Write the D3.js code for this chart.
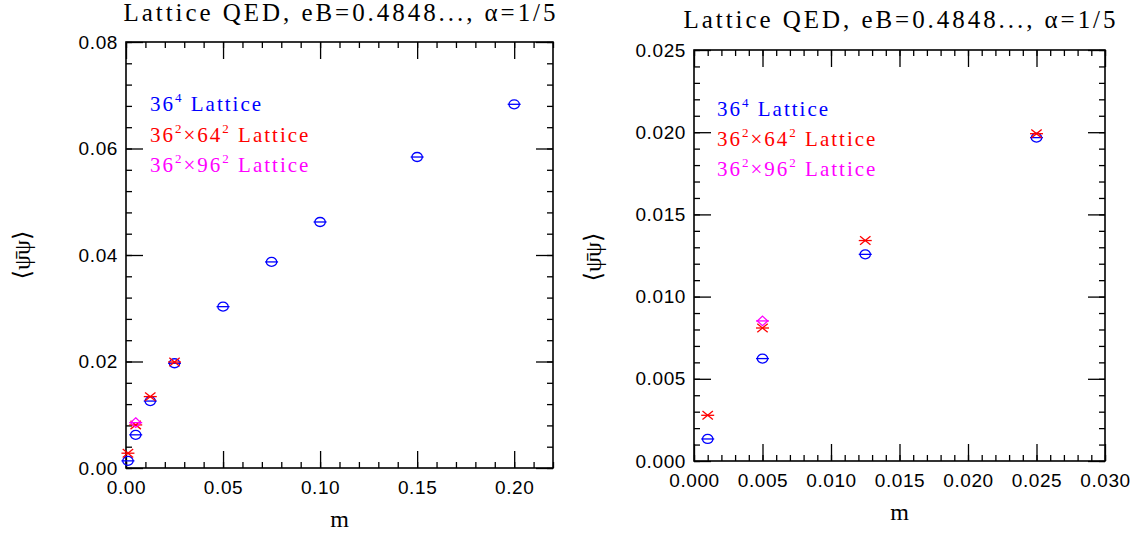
<!DOCTYPE html>
<html lang="en">
<head>
<meta charset="UTF-8">
<title>Lattice QED chiral condensate</title>
<script src="https://d3js.org/d3.v7.min.js"></script>
<style>
    body { margin: 0; padding: 0; background: #fff; }
    svg { display: block; }
    .tick line { stroke: #000; stroke-width: 1.3; }
    .title, .legend, .axis-label { font-family: "Liberation Serif", "DejaVu Serif", serif; }
</style>
</head>
<body>
<div id="chart"></div>
<script>
    // 36^4 lattice
    const mBlue = [0.001, 0.005, 0.0125, 0.025, 0.05, 0.075, 0.1, 0.15, 0.2];
    const pbpBlue = [0.00134, 0.00623, 0.01257, 0.01967, 0.0303, 0.0387, 0.0462, 0.0584, 0.0683];
    // 36^2 x 64^2 lattice
    const mRed = [0.001, 0.005, 0.0125, 0.025];
    const pbpRed = [0.00278, 0.00809, 0.01341, 0.01991];
    // 36^2 x 96^2 lattice
    const mMag = [0.005];
    const pbpMag = [0.00852];

    const titleText = "Lattice QED, eB=0.4848..., \u03b1=1/5";
    const legendNames = [["36", "4", ""], ["36", "2", "\u00d764", "2"], ["36", "2", "\u00d796", "2"]];

    const series = [
        {m: mBlue, v: pbpBlue, color: "#0000ff", shape: "circle"},
        {m: mRed, v: pbpRed, color: "#ff0000", shape: "star"},
        {m: mMag, v: pbpMag, color: "#ff00ff", shape: "diamond"}
    ];

    const panels = [
        {left: 126, right: 553, top: 42, bottom: 468,
         xMax: 0.22, yMax: 0.08, xStep: 0.05, xMinor: 0.01, yStep: 0.02, yMinor: 0.004,
         fmt: ".2f", titleY: 21, legX: 150, legY: [111, 141.5, 171.5], mY: 527, ylabX: 22, ylabY: 255},
        {left: 694, right: 1105, top: 50, bottom: 461,
         xMax: 0.03, yMax: 0.025, xStep: 0.005, xMinor: 0.001, yStep: 0.005, yMinor: 0.001,
         fmt: ".3f", titleY: 28, legX: 717, legY: [116, 146, 175.5], mY: 520, ylabX: 593, ylabY: 257}
    ];

    const svg = d3.select("#chart").append("svg")
        .attr("width", 1143)
        .attr("height", 534);

    function steps(max, step) {
        const n = Math.round(max / step);
        return d3.range(n + 1).map(i => +(i * step).toFixed(6));
    }

    function marker(g, shape, color) {
        const s = g.append("g").attr("stroke", color).attr("stroke-width", 1.3).attr("fill", "none");
        s.append("line").attr("x1", -6.5).attr("x2", 6.5).attr("y1", 0).attr("y2", 0);
        if (shape === "circle") {
            s.append("ellipse").attr("rx", 5.2).attr("ry", 4.5);
        } else if (shape === "star") {
            s.append("line").attr("x1", -5.2).attr("y1", -4.2).attr("x2", 5.2).attr("y2", 4.2);
            s.append("line").attr("x1", -5.2).attr("y1", 4.2).attr("x2", 5.2).attr("y2", -4.2);
        } else {
            s.append("path").attr("d", "M0,-4.8L5.2,0L0,4.8L-5.2,0Z");
        }
    }

    panels.forEach(p => {
        const x = d3.scaleLinear().domain([0, p.xMax]).range([p.left, p.right]);
        const y = d3.scaleLinear().domain([0, p.yMax]).range([p.bottom, p.top]);
        const fmt = d3.format(p.fmt);
        const xt = steps(p.xMax, p.xStep), xm = steps(p.xMax, p.xMinor);
        const yt = steps(p.yMax, p.yStep), ym = steps(p.yMax, p.yMinor);

        const axes = [
            {ax: d3.axisBottom(x), pos: `translate(0,${p.bottom})`, major: xt, minor: xm, lab: true, pad: 13},
            {ax: d3.axisTop(x), pos: `translate(0,${p.top})`, major: xt, minor: xm, lab: false},
            {ax: d3.axisLeft(y), pos: `translate(${p.left},0)`, major: yt, minor: ym, lab: true, pad: 8},
            {ax: d3.axisRight(y), pos: `translate(${p.right},0)`, major: yt, minor: ym, lab: false}
        ];
        axes.forEach(a => {
            const gMin = svg.append("g").attr("transform", a.pos)
                .call(a.ax.tickValues(a.minor).tickSize(-6).tickFormat(""));
            gMin.select(".domain").remove();
            const gMaj = svg.append("g").attr("transform", a.pos)
                .call(a.ax.tickValues(a.major).tickSize(-17).tickPadding(a.pad || 0)
                    .tickFormat(a.lab ? fmt : ""));
            gMaj.attr("font-family", "'Liberation Sans', Arial, sans-serif")
                .attr("font-size", 19);
            gMaj.select(".domain").remove();
            gMaj.selectAll("text").attr("fill", "#000").attr("letter-spacing", 0.6);
        });

        svg.append("rect")
            .attr("x", p.left).attr("y", p.top)
            .attr("width", p.right - p.left).attr("height", p.bottom - p.top)
            .attr("fill", "none").attr("stroke", "#000").attr("stroke-width", 1.6);

        series.forEach(s => {
            s.m.forEach((mv, i) => {
                const g = svg.append("g").attr("transform", `translate(${x(mv)},${y(s.v[i])})`);
                marker(g, s.shape, s.color);
            });
        });

        svg.append("text").attr("class", "title")
            .attr("x", (p.left + p.right) / 2).attr("y", p.titleY)
            .attr("text-anchor", "middle").attr("font-size", 25)
            .attr("textLength", 432).attr("lengthAdjust", "spacing")
            .text(titleText);

        legendNames.forEach((parts, i) => {
            const t = svg.append("text").attr("class", "legend")
                .attr("x", p.legX).attr("y", p.legY[i])
                .attr("font-size", 21).attr("fill", series[i].color)
                .attr("letter-spacing", 2);
            t.append("tspan").text(parts[0]);
            t.append("tspan").attr("font-size", 13).attr("dy", -9).text(parts[1]);
            if (parts.length > 3) {
                t.append("tspan").attr("dy", 9).text(parts[2]);
                t.append("tspan").attr("font-size", 13).attr("dy", -9).text(parts[3]);
            }
            t.append("tspan").attr("dy", 9).text(" Lattice");
        });

        svg.append("text").attr("class", "axis-label")
            .attr("x", (p.left + p.right) / 2).attr("y", p.mY)
            .attr("text-anchor", "middle").attr("font-size", 24)
            .text("m");

        svg.append("text").attr("class", "axis-label")
            .attr("transform", `translate(${p.ylabX},${p.ylabY}) rotate(-90)`)
            .attr("text-anchor", "middle").attr("dy", "0.35em").attr("font-size", 24)
            .text("\u27e8\u03c8\u0304\u03c8\u27e9");
    });
</script>
</body>
</html>
